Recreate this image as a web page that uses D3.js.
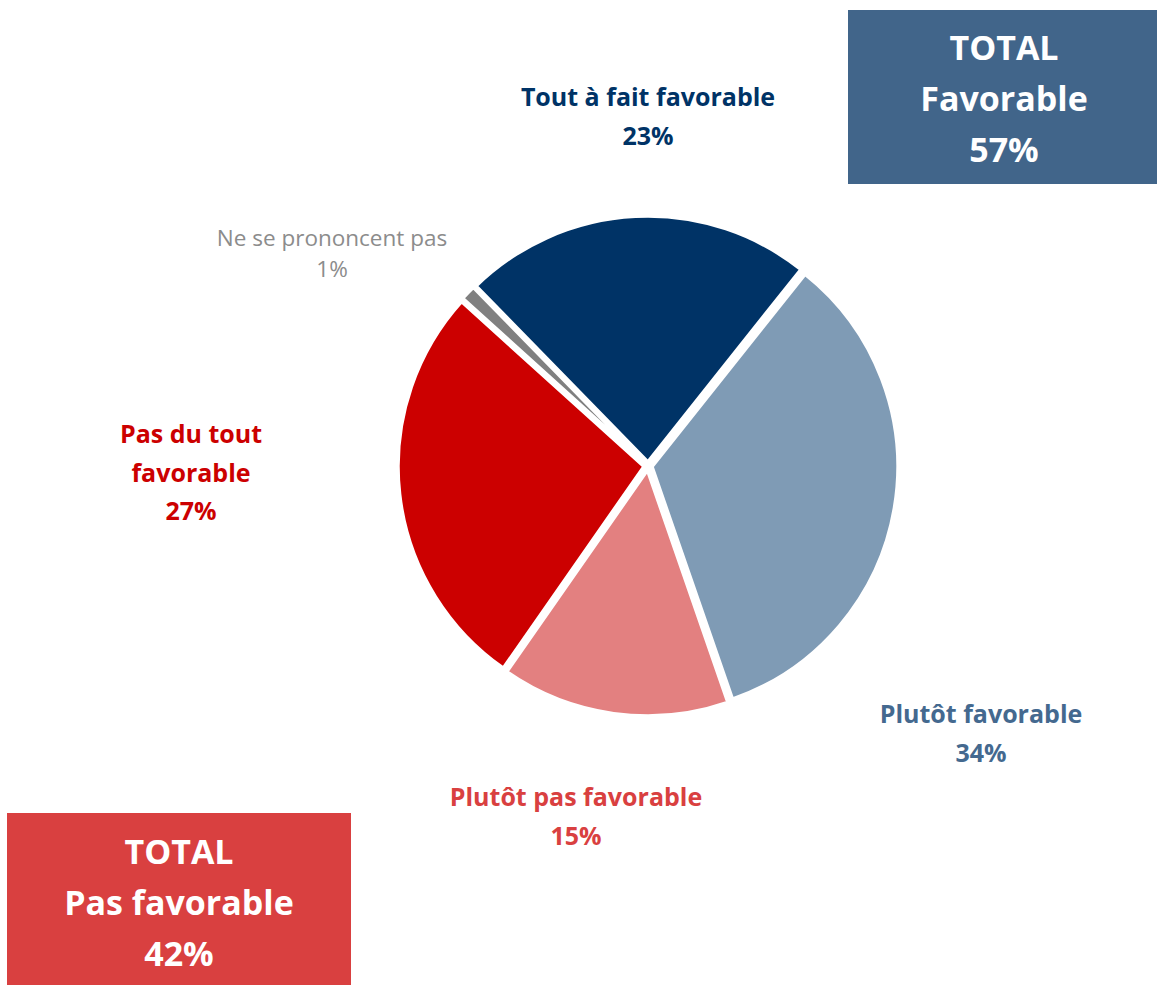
<!DOCTYPE html>
<html>
<head>
<meta charset="utf-8">
<script src="https://cdn.jsdelivr.net/npm/d3@7"></script>
<style>
  body { margin: 0; background: #fff; }
  svg { display: block; font-family: 'Open Sans', Lato, sans-serif; }
</style>
</head>
<body>
<svg></svg>
<script>
const width = 1157
const height = 985

// data
const categories = ['Tout à fait favorable', 'Plutôt favorable', 'Plutôt pas favorable', 'Pas du tout favorable', 'Ne se prononcent pas']
const values = [23, 34, 15, 27, 1]
const totals = [
  { lines: ['TOTAL', 'Favorable', '57%'] },
  { lines: ['TOTAL', 'Pas favorable', '42%'] },
]

const sliceColors = ['#003366', '#7f9bb5', '#e38080', '#cc0000', '#808080']
const labelColors = ['#003366', '#44698f', '#d94040', '#cc0000', '#8c8c8c']

// label layout (centre x, first baseline y, line breaks)
const labelLayout = [
  { x: 648, y: 106, lines: ['Tout à fait favorable'] },
  { x: 981, y: 723, lines: ['Plutôt favorable'] },
  { x: 576, y: 806, lines: ['Plutôt pas favorable'] },
  { x: 191, y: 443, lines: ['Pas du tout', 'favorable'] },
  { x: 332, y: 246, lines: ['Ne se prononcent pas'], normal: true },
]

const svg = d3.select('svg').attr('width', width).attr('height', height)

const cx = 648
const cy = 466
const radius = 246
const explode = 4
const start = -44.3 * Math.PI / 180

const pie = d3.pie()
  .sort(null)
  .value((d) => d)
  .startAngle(start)
  .endAngle(start + 2 * Math.PI)

const arc = d3.arc().innerRadius(0).outerRadius(radius)

const pieGroup = svg.append('g').attr('transform', `translate(${cx},${cy})`)

pieGroup
  .selectAll('path')
  .data(pie(values))
  .enter()
  .append('path')
  .attr('d', arc)
  .attr('fill', (d, i) => sliceColors[i])
  .attr('stroke', '#fff')
  .attr('stroke-width', 3.5)
  .attr('stroke-linejoin', 'miter')
  .attr('transform', (d) => {
    const a = (d.startAngle + d.endAngle) / 2
    return `translate(${Math.sin(a) * explode},${-Math.cos(a) * explode})`
  })

// slice labels
categories.forEach((name, i) => {
  const lay = labelLayout[i]
  const lines = lay.lines.concat([values[i] + '%'])
  const t = svg.append('text')
    .attr('text-anchor', 'middle')
    .attr('fill', labelColors[i])
    .attr('font-size', lay.normal ? 22.5 : 25)
    .attr('font-weight', lay.normal ? 400 : 700)
  lines.forEach((line, j) => {
    t.append('tspan')
      .attr('x', lay.x)
      .attr('y', lay.y + j * (lay.normal ? 31 : 38.5))
      .text(line)
  })
})

// total boxes
const boxLayout = [
  { x: 848, y: 10, w: 309, h: 174, fill: '#41658a', tx: 1004, ty: 60 },
  { x: 7, y: 813, w: 344, h: 172, fill: '#d94040', tx: 179, ty: 864 },
]

totals.forEach((tot, i) => {
  const b = boxLayout[i]
  svg.append('rect')
    .attr('x', b.x).attr('y', b.y)
    .attr('width', b.w).attr('height', b.h)
    .attr('fill', b.fill)
  const t = svg.append('text')
    .attr('text-anchor', 'middle')
    .attr('fill', '#fff')
    .attr('font-size', 34)
    .attr('font-weight', 700)
  tot.lines.forEach((line, j) => {
    t.append('tspan')
      .attr('x', b.tx)
      .attr('y', b.ty + j * 51)
      .text(line)
  })
})
</script>
</body>
</html>
